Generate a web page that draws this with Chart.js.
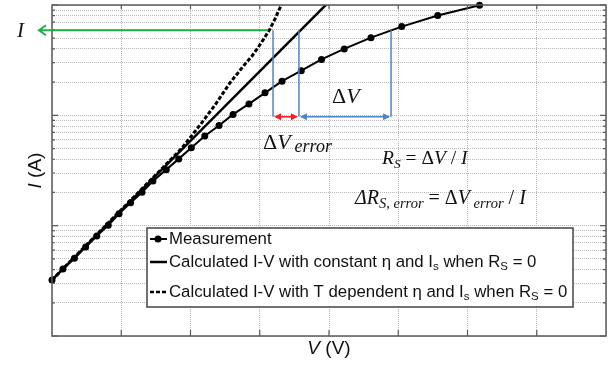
<!DOCTYPE html>
<html>
<head>
<meta charset="utf-8">
<style>
  html, body { margin: 0; padding: 0; background: #fff; }
  #wrap { width: 610px; height: 366px; }
</style>
</head>
<body>
<div id="wrap"><canvas id="chartIV"></canvas></div>
<script src="https://cdn.jsdelivr.net/npm/chart.js@4"></script>
<script>
const ctx = document.getElementById('chartIV').getContext('2d');

// measured I-V points
const vMeas = [0.000, 0.079, 0.162, 0.243, 0.323, 0.406, 0.484, 0.567, 0.650, 0.729, 0.825, 0.915, 1.006,
    1.103, 1.206, 1.307, 1.422, 1.538, 1.661, 1.800, 1.946, 2.110, 2.303, 2.525, 2.785, 3.087];
const iMeas = [0.00322, 0.00405, 0.00506, 0.00641, 0.00807, 0.0101, 0.0128, 0.0161, 0.0201, 0.0254, 0.0322, 0.0403, 0.0509,
    0.0650, 0.0809, 0.102, 0.127, 0.160, 0.204, 0.254, 0.321, 0.400, 0.506, 0.637, 0.802, 0.995];

// calculated, constant eta and Is (straight line on log axis)
const vConst = [0.000, 2.000];
const iConst = [0.00322, 1.07];

// calculated, T dependent eta and Is
const vTdep = [0.000, 0.419, 0.635, 0.780, 0.939, 1.069, 1.177, 1.285, 1.394, 1.444, 1.487, 1.531, 1.574, 1.610, 1.639, 1.675];
const iTdep = [0.00322, 0.0110, 0.0207, 0.0316, 0.0506, 0.0818, 0.124, 0.197, 0.292, 0.345, 0.410, 0.497, 0.607, 0.748, 0.904, 1.11];

// gridline values for the log axis
const decades = [0.001, 0.01, 0.1];
const mantissas = [1, 2, 3, 4, 5, 6, 7, 8, 9];

// annotation positions (data units)
const iLevel = 0.59;
const iBase = 0.097;
const vDashCut = 1.596;
const vConstCut = 1.783;
const vMeasCut = 2.448;
const vArrowStart = 1.56;
const vArrowEnd = -0.094;

const toXY = (xs, ys) => xs.map((x, i) => ({ x: x, y: ys[i] }));

const serif = 'Liberation Serif';
const sans = 'Liberation Sans';

function textRuns(c, x, y, parts) {
    parts.forEach(p => {
        c.font = p[1];
        c.fillText(p[0], x, y + (p[2] || 0));
        x += c.measureText(p[0]).width;
    });
    return x;
}

const decorations = {
    id: 'decorations',
    afterDatasetsDraw(chart) {
        const c = chart.ctx;
        const a = chart.chartArea;
        const xs = chart.scales.x;
        const ys = chart.scales.y;
        c.save();

        // frame
        c.strokeStyle = '#5a5a5a';
        c.lineWidth = 1.5;
        c.strokeRect(a.left, a.top, a.right - a.left, a.bottom - a.top);

        // inward ticks
        c.lineWidth = 1.2;
        c.beginPath();
        xs.ticks.forEach(t => {
            const px = xs.getPixelForValue(t.value);
            if (px <= a.left + 1 || px >= a.right - 1) return;
            c.moveTo(px, a.bottom); c.lineTo(px, a.bottom - 6);
            c.moveTo(px, a.top); c.lineTo(px, a.top + 4);
        });
        ys.ticks.forEach(t => {
            const py = ys.getPixelForValue(t.value);
            const len = t.major ? 6 : 3;
            c.moveTo(a.left, py); c.lineTo(a.left + len, py);
            c.moveTo(a.right, py); c.lineTo(a.right - len, py);
        });
        c.stroke();

        // green arrow at current level I
        const yI = ys.getPixelForValue(iLevel);
        const xA0 = xs.getPixelForValue(vArrowStart);
        const xA1 = xs.getPixelForValue(vArrowEnd);
        c.strokeStyle = '#1fb04c';
        c.lineWidth = 2;
        c.beginPath();
        c.moveTo(xA0, yI); c.lineTo(xA1, yI);
        c.moveTo(xA1 + 7, yI - 5); c.lineTo(xA1, yI); c.lineTo(xA1 + 7, yI + 5);
        c.stroke();

        // blue verticals
        const yB = ys.getPixelForValue(iBase);
        const xD = xs.getPixelForValue(vDashCut);
        const xC = xs.getPixelForValue(vConstCut);
        const xM = xs.getPixelForValue(vMeasCut);
        c.strokeStyle = '#4f85c4';
        c.lineWidth = 1.5;
        c.beginPath();
        [xD, xC, xM].forEach(px => { c.moveTo(px, yI); c.lineTo(px, yB); });
        c.moveTo(xC + 2, yB); c.lineTo(xM - 2, yB);
        c.stroke();

        const head = (px, py, dir, col) => {
            c.fillStyle = col;
            c.beginPath();
            c.moveTo(px, py);
            c.lineTo(px - dir * 7, py - 3.5);
            c.lineTo(px - dir * 7, py + 3.5);
            c.closePath();
            c.fill();
        };
        head(xC + 1, yB, -1, '#4f85c4');
        head(xM - 1, yB, 1, '#4f85c4');

        c.strokeStyle = '#ff1a1a';
        c.lineWidth = 1.5;
        c.beginPath();
        c.moveTo(xD + 3, yB); c.lineTo(xC - 3, yB);
        c.stroke();
        head(xD + 1, yB, -1, '#ff1a1a');
        head(xC - 1, yB, 1, '#ff1a1a');

        // labels
        c.fillStyle = '#111';
        c.textBaseline = 'alphabetic';
        c.textAlign = 'left';
        textRuns(c, 17, 37, [['I', 'italic 21px ' + serif]]);
        textRuns(c, 332, 103, [['\u0394', '22px ' + serif], ['V', 'italic 22px ' + serif]]);
        let x = textRuns(c, 263, 149, [['\u0394', '22px ' + serif], ['V', 'italic 22px ' + serif]]);
        textRuns(c, x + 4, 152, [['error', 'italic 18px ' + serif]]);

        textRuns(c, 382, 164, [
            ['R', 'italic 19.5px ' + serif], ['S', 'italic 13.5px ' + serif, 4],
            [' = \u0394', '19.5px ' + serif], ['V', 'italic 19.5px ' + serif],
            [' / ', '19.5px ' + serif], ['I', 'italic 19.5px ' + serif]
        ]);
        textRuns(c, 355, 204, [
            ['\u0394R', 'italic 20px ' + serif], ['S, error', 'italic 14.5px ' + serif, 4],
            [' = \u0394', '20px ' + serif], ['V', 'italic 20px ' + serif],
            [' error', 'italic 14.5px ' + serif, 4],
            [' / ', '20px ' + serif], ['I', 'italic 20px ' + serif]
        ]);

        // legend box
        const lx = 147, ly = 228, lw = 426, lh = 79;
        c.fillStyle = '#fff';
        c.fillRect(lx, ly, lw, lh);
        c.strokeStyle = '#444';
        c.lineWidth = 1.5;
        c.strokeRect(lx, ly, lw, lh);

        c.strokeStyle = '#000';
        c.lineWidth = 2;
        c.beginPath();
        c.moveTo(150, 239); c.lineTo(167, 239);
        c.stroke();
        c.fillStyle = '#000';
        c.beginPath();
        c.arc(158, 239, 3.5, 0, Math.PI * 2);
        c.fill();

        c.lineWidth = 2.5;
        c.beginPath();
        c.moveTo(150, 262); c.lineTo(167, 262);
        c.stroke();

        c.lineWidth = 2.5;
        c.setLineDash([4, 2]);
        c.beginPath();
        c.moveTo(150, 292); c.lineTo(167, 292);
        c.stroke();
        c.setLineDash([]);

        c.fillStyle = '#111';
        const f = '16.8px ' + sans, fs = '11.5px ' + sans;
        textRuns(c, 169, 244, [['Measurement', f]]);
        textRuns(c, 169, 267, [
            ['Calculated I-V with constant \u03b7 and I', f], ['s', fs, 3],
            [' when R', f], ['S', fs, 3], [' = 0', f]
        ]);
        textRuns(c, 169, 297, [
            ['Calculated I-V with T dependent \u03b7 and I', f], ['s', fs, 3],
            [' when R', f], ['S', fs, 3], [' = 0', f]
        ]);

        // axis titles
        c.font = '19px ' + sans;
        const w1 = c.measureText(' (V)').width;
        c.font = 'italic 19px ' + sans;
        const w0 = c.measureText('V').width;
        const cx = (a.left + a.right) / 2;
        textRuns(c, cx - (w0 + w1) / 2, 354, [['V', 'italic 19px ' + sans], [' (V)', '19px ' + sans]]);

        c.save();
        c.translate(41, (a.top + a.bottom) / 2);
        c.rotate(-Math.PI / 2);
        c.font = '19px ' + sans;
        const h1 = c.measureText(' (A)').width;
        c.font = 'italic 19px ' + sans;
        const h0 = c.measureText('I').width;
        textRuns(c, -(h0 + h1) / 2, 0, [['I', 'italic 19px ' + sans], [' (A)', '19px ' + sans]]);
        c.restore();

        c.restore();
    }
};

const gridStyle = { color: '#b9b9b9', lineWidth: 1, drawTicks: false };

const ivChart = new Chart(ctx, {
    type: 'line',
    data: {
        datasets: [
            {
                label: 'Measurement',
                data: toXY(vMeas, iMeas),
                borderColor: '#000',
                backgroundColor: '#000',
                borderWidth: 2,
                pointRadius: 3.5,
                pointBorderWidth: 0,
                tension: 0,
                clip: false
            },
            {
                label: 'Calculated I-V with constant η and Is when RS = 0',
                data: toXY(vConst, iConst),
                borderColor: '#000',
                borderWidth: 2.5,
                pointRadius: 0,
                tension: 0
            },
            {
                label: 'Calculated I-V with T dependent η and Is when RS = 0',
                data: toXY(vTdep, iTdep),
                borderColor: '#000',
                borderWidth: 3,
                borderDash: [4, 2],
                pointRadius: 0,
                tension: 0
            }
        ]
    },
    options: {
        responsive: true,
        maintainAspectRatio: false,
        animation: false,
        layout: { padding: { left: 52, right: 4, top: 5, bottom: 30 } },
        plugins: {
            legend: { display: false },
            tooltip: { enabled: false }
        },
        scales: {
            x: {
                type: 'linear',
                min: 0,
                max: 4,
                ticks: { display: false, stepSize: 0.5 },
                grid: gridStyle,
                border: { display: false, dash: [1, 1] }
            },
            y: {
                type: 'logarithmic',
                min: 0.001,
                max: 1,
                ticks: { display: false, autoSkip: false },
                grid: gridStyle,
                border: { display: false, dash: [1, 1] },
                afterBuildTicks: (axis) => {
                    const t = [];
                    decades.forEach(d => mantissas.forEach(m => {
                        t.push({ value: +(d * m).toPrecision(3), major: m === 1 });
                    }));
                    t.push({ value: 1, major: true });
                    axis.ticks = t;
                }
            }
        }
    },
    plugins: [decorations]
});
</script>
</body>
</html>
